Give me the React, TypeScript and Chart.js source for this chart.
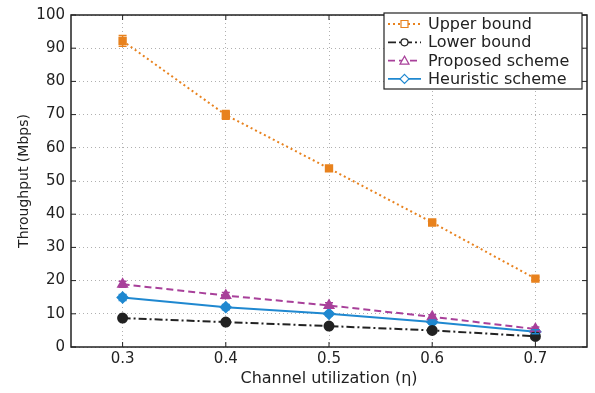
import React, { useEffect, useRef } from "react";
import { Chart, registerables } from "chart.js";

Chart.register(...registerables);

const utilization = [0.3, 0.4, 0.5, 0.6, 0.7];
const xTicks = [0.3, 0.4, 0.5, 0.6, 0.7];
const upperBound = [92.2, 69.9, 53.8, 37.5, 20.6];
const upperErr = [1.6, 1.3, 0.6, 0.5, 0.5];
const lowerBound = [8.7, 7.5, 6.3, 5.0, 3.2];
const lowerErr = [0.6, 0.5, 0.5, 0.5, 0.5];
const proposed = [18.9, 15.5, 12.5, 9.1, 5.4];
const proposedErr = [0.9, 0.9, 0.8, 0.6, 0.6];
const heuristic = [14.9, 12.0, 10.0, 7.5, 4.6];
const heuristicErr = [0.9, 0.8, 0.6, 0.6, 0.6];

const FONT = "'DejaVu Sans', sans-serif";

const series = [
  { label: "Upper bound", values: upperBound, err: upperErr, color: "#e8821e", dash: [2, 3], style: "rect", fill: "#e8821e" },
  { label: "Lower bound", values: lowerBound, err: lowerErr, color: "#222222", dash: [8, 3, 2, 3], style: "circle", fill: "#222222" },
  { label: "Proposed scheme", values: proposed, err: proposedErr, color: "#a8409a", dash: [7, 4], style: "triangle", fill: "#a8409a" },
  { label: "Heuristic scheme", values: heuristic, err: heuristicErr, color: "#1f88d0", dash: [], style: "rectRot", fill: "#1f88d0" },
];

const framePlugin = {
  id: "frame",
  afterDatasetsDraw(chart: any) {
    const ctx = chart.ctx;
    const xs = chart.scales.x;
    const ys = chart.scales.y;
    chart.data.datasets.forEach((ds: any) => {
      ctx.save();
      ctx.strokeStyle = ds.borderColor;
      ctx.lineWidth = 1.5;
      ds.data.forEach((p: any, i: number) => {
        const e = ds.errs[i];
        const px = xs.getPixelForValue(p.x);
        const y1 = ys.getPixelForValue(p.y - e);
        const y2 = ys.getPixelForValue(p.y + e);
        ctx.beginPath();
        ctx.moveTo(px, y1);
        ctx.lineTo(px, y2);
        ctx.moveTo(px - 4, y1);
        ctx.lineTo(px + 4, y1);
        ctx.moveTo(px - 4, y2);
        ctx.lineTo(px + 4, y2);
        ctx.stroke();
      });
      ctx.restore();
    });
  },
  afterDraw(chart: any) {
    const ctx = chart.ctx;
    const a = chart.chartArea;
    const xs = chart.scales.x;
    const ys = chart.scales.y;
    ctx.save();
    ctx.strokeStyle = "#222";
    ctx.lineWidth = 1.5;
    ctx.strokeRect(a.left, a.top, a.right - a.left, a.bottom - a.top);
    ctx.lineWidth = 1;
    xTicks.forEach((t) => {
      const px = xs.getPixelForValue(t);
      ctx.beginPath();
      ctx.moveTo(px, a.bottom);
      ctx.lineTo(px, a.bottom - 5);
      ctx.moveTo(px, a.top);
      ctx.lineTo(px, a.top + 5);
      ctx.stroke();
    });
    for (let v = 0; v <= 100; v += 10) {
      const py = ys.getPixelForValue(v);
      ctx.beginPath();
      ctx.moveTo(a.left, py);
      ctx.lineTo(a.left + 5, py);
      ctx.moveTo(a.right, py);
      ctx.lineTo(a.right - 5, py);
      ctx.stroke();
    }
    // legend
    const lx = 384, ly = 13, lw = 198, lh = 76;
    ctx.fillStyle = "#fff";
    ctx.fillRect(lx, ly, lw, lh);
    ctx.strokeStyle = "#222";
    ctx.lineWidth = 1.2;
    ctx.strokeRect(lx, ly, lw, lh);
    ctx.font = `16px ${FONT}`;
    ctx.textBaseline = "middle";
    chart.data.datasets.forEach((ds: any, i: number) => {
      const y = ly + 11 + i * 18.3;
      ctx.strokeStyle = ds.borderColor;
      ctx.lineWidth = 1.8;
      ctx.setLineDash(ds.borderDash || []);
      ctx.beginPath();
      ctx.moveTo(lx + 4, y);
      ctx.lineTo(lx + 37, y);
      ctx.stroke();
      ctx.setLineDash([]);
      ctx.fillStyle = "#fff";
      ctx.strokeStyle = ds.borderColor;
      ctx.lineWidth = 1.2;
      const cx = lx + 20.5;
      ctx.beginPath();
      if (ds.pointStyle === "rect") {
        ctx.rect(cx - 3.5, y - 3.5, 7, 7);
      } else if (ds.pointStyle === "circle") {
        ctx.arc(cx, y, 3.5, 0, Math.PI * 2);
      } else if (ds.pointStyle === "triangle") {
        ctx.moveTo(cx, y - 4.5);
        ctx.lineTo(cx + 4.5, y + 3.5);
        ctx.lineTo(cx - 4.5, y + 3.5);
        ctx.closePath();
      } else {
        ctx.moveTo(cx, y - 4.5);
        ctx.lineTo(cx + 4.5, y);
        ctx.lineTo(cx, y + 4.5);
        ctx.lineTo(cx - 4.5, y);
        ctx.closePath();
      }
      ctx.fill();
      ctx.stroke();
      ctx.fillStyle = "#222";
      ctx.fillText(ds.label, lx + 44, y + 1);
    });
    ctx.restore();
  },
};

export default function App() {
  const ref = useRef<HTMLCanvasElement>(null);
  useEffect(() => {
    const chart = new Chart(ref.current!, {
      type: "line",
      data: {
        datasets: series.map((s) => ({
          label: s.label,
          data: utilization.map((x, i) => ({ x, y: s.values[i] })),
          errs: s.err,
          borderColor: s.color,
          backgroundColor: s.fill,
          borderDash: s.dash,
          borderWidth: 2,
          pointStyle: s.style as any,
          pointRadius: s.style === "triangle" || s.style === "rectRot" ? 5 : 4.5,
          pointBorderColor: s.color,
          pointBackgroundColor: s.fill,
          tension: 0,
          fill: false,
        })) as any,
      },
      options: {
        animation: false,
        responsive: false,
        maintainAspectRatio: false,
        layout: { padding: { left: 0, top: 10, right: 8, bottom: 0 } },
        plugins: { legend: { display: false }, tooltip: { enabled: false } },
        scales: {
          x: {
            type: "linear",
            min: 0.25,
            max: 0.75,
            afterBuildTicks: (scale: any) => {
              scale.ticks = xTicks.map((v) => ({ value: v }));
            },
            afterFit: (scale: any) => {
              scale.height = 46;
            },
            ticks: {
              color: "#222",
              font: { family: FONT, size: 15 },
              padding: 3,
              callback: (v: any) => Number(v).toFixed(1),
            },
            grid: { color: "#b0b0b0", lineWidth: 1, drawTicks: false },
            border: { display: false, dash: [1, 3] },
            title: {
              display: true,
              text: "Channel utilization (\u03b7)",
              color: "#222",
              font: { family: FONT, size: 16 },
              padding: { top: 2, bottom: 5 },
            },
          },
          y: {
            min: 0,
            max: 100,
            afterFit: (scale: any) => {
              scale.width = 71;
            },
            ticks: {
              stepSize: 10,
              color: "#222",
              font: { family: FONT, size: 15 },
              padding: 6,
            },
            grid: { color: "#b0b0b0", lineWidth: 1, drawTicks: false },
            border: { display: false, dash: [1, 3] },
            title: {
              display: true,
              text: "Throughput (Mbps)",
              color: "#222",
              font: { family: FONT, size: 14 },
              padding: { top: 16, bottom: 4 },
            },
          },
        },
      },
      plugins: [framePlugin],
    } as any);
    return () => chart.destroy();
  }, []);
  return (
    <div style={{ position: "fixed", left: 0, top: 0, width: 595, height: 393, background: "#fff" }}>
      <canvas ref={ref} width={595} height={393} />
    </div>
  );
}
